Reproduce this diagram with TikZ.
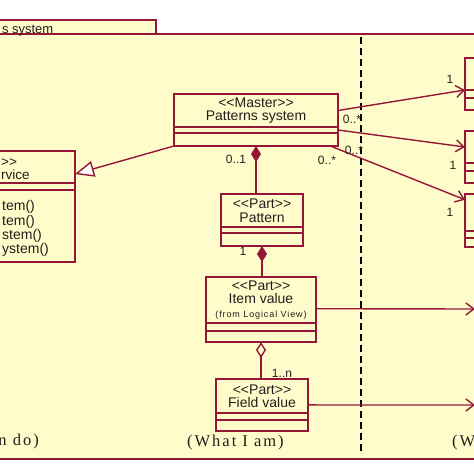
\documentclass[tikz,border=0pt]{standalone}
\usepackage{fontspec}
\setmainfont{Liberation Sans}
\newfontfamily\viewfont[LetterSpace=12]{Liberation Serif}
\newfontfamily\smallspaced[LetterSpace=10]{Liberation Sans}
\usetikzlibrary{arrows.meta}
\usetikzlibrary{positioning}
\definecolor{umlred}{RGB}{150,22,55}
\definecolor{umlfill}{RGB}{255,252,204}
\definecolor{umltext}{RGB}{35,30,28}
\newcommand\stereo[1]{<{}<#1>{}>}

\begin{document}
\begin{tikzpicture}[x=1pt,y=-1pt,font=\fontsize{14}{13.5}\selectfont,text=umltext]
  \tikzset{pkg/.style={draw=umlred, fill=umlfill, line width=1.5pt}}
  \tikzset{classhead/.style={rectangle, draw=umlred, fill=umlfill, line width=1.5pt,
      inner sep=0pt, outer sep=0pt, align=center, anchor=north west}}
  \tikzset{classpart/.style={rectangle, draw=umlred, fill=umlfill, line width=1.5pt,
      inner sep=0pt, outer sep=0pt}}
  \tikzset{mult/.style={font=\fontsize{12}{12}\selectfont, inner sep=0pt}}
  \tikzset{view/.style={font=\viewfont\fontsize{16.5}{16.5}\selectfont, inner sep=0pt}}
  \tikzset{assoc/.style={draw=umlred, line width=1.4pt, -{Straight Barb[length=8pt,width=12pt]}}}
  \tikzset{compose/.style={draw=umlred, line width=1.4pt, {Diamond[length=16pt,width=10pt,fill=umlred]}-}}
  \tikzset{aggreg/.style={draw=umlred, line width=1.4pt, {Diamond[length=16pt,width=10pt,fill=umlfill]}-}}
  \tikzset{generalize/.style={draw=umlred, line width=1.4pt, -{Triangle[length=19pt,width=16pt,fill=white]}}}
  \clip (0,0) rectangle (474,474);
  % package frame
  \draw[pkg] (-5,20) rectangle (156,34);
  \draw[pkg] (-5,34) rectangle (490,459);
  \node[anchor=base east, inner sep=0pt, font=\fontsize{13}{13}\selectfont] (pkgname) at (53.5,33.5) {s system};
  \draw[black, line width=1.2pt, dash pattern=on 7pt off 4pt] (361,37) -- (361,453);
  % classes
  \node[classhead, minimum width=164pt, minimum height=33pt] (master) at (174,94)
    {\stereo{Master}\\Patterns system};
  \node[classpart, minimum width=164pt, minimum height=6pt, below=0pt of master] (masterA) {};
  \node[classpart, minimum width=164pt, minimum height=13pt, below=0pt of masterA] (masterB) {};
  \node[classhead, minimum width=82pt, minimum height=33pt] (pattern) at (221,194)
    {\stereo{Part}\\Pattern};
  \node[classpart, minimum width=82pt, minimum height=6pt, below=0pt of pattern] (patternA) {};
  \node[classpart, minimum width=82pt, minimum height=13pt, below=0pt of patternA] (patternB) {};
  \node[classhead, minimum width=110pt, minimum height=46pt] (item) at (206,277)
    {\stereo{Part}\\Item value\\{\smallspaced\fontsize{9}{12}\selectfont (from Logical View)}};
  \node[classpart, minimum width=110pt, minimum height=8pt, below=0pt of item] (itemA) {};
  \node[classpart, minimum width=110pt, minimum height=11pt, below=0pt of itemA] (itemB) {};
  \node[classhead, minimum width=92pt, minimum height=34pt] (field) at (216,379)
    {\stereo{Part}\\Field value};
  \node[classpart, minimum width=92pt, minimum height=7pt, below=0pt of field] (fieldA) {};
  \node[classpart, minimum width=92pt, minimum height=11pt, below=0pt of fieldA] (fieldB) {};
  \node[classhead, minimum width=115pt, minimum height=32pt] (service) at (-40,151) {};
  \node[classpart, minimum width=115pt, minimum height=7pt, below=0pt of service] (serviceA) {};
  \node[classpart, minimum width=115pt, minimum height=72pt, below=0pt of serviceA] (serviceB) {};
  \node[anchor=south west, align=left, inner sep=0pt, font=\fontsize{13.5}{13.5}\selectfont]
    (svcname) at (1,180) {>{}>\\rvice};
  \node[anchor=south west, align=left, inner sep=0pt, font=\fontsize{14}{14.3}\selectfont]
    (svcops) at (2,257) {tem()\\tem()\\stem()\\ystem()};
  \node[classhead, minimum width=60pt, minimum height=32pt] (rone) at (465,58) {};
  \node[classpart, minimum width=60pt, minimum height=8pt, below=0pt of rone] (roneA) {};
  \node[classpart, minimum width=60pt, minimum height=12pt, below=0pt of roneA] (roneB) {};
  \node[classhead, minimum width=60pt, minimum height=32pt] (rtwo) at (465,131) {};
  \node[classpart, minimum width=60pt, minimum height=8pt, below=0pt of rtwo] (rtwoA) {};
  \node[classpart, minimum width=60pt, minimum height=12pt, below=0pt of rtwoA] (rtwoB) {};
  \node[classhead, minimum width=60pt, minimum height=37pt] (rthree) at (465,194) {};
  \node[classpart, minimum width=60pt, minimum height=7pt, below=0pt of rthree] (rthreeA) {};
  \node[classpart, minimum width=60pt, minimum height=9pt, below=0pt of rthreeA] (rthreeB) {};
  % free ends
  \coordinate (itemout) at (475,309);
  \coordinate (fieldout) at (475,405);
  % connectors
  \draw[generalize] (masterB.south west) -- (service.-7);
  \draw[compose] (masterB.south) -- (masterB.south |- pattern.north);
  \draw[compose] (patternB.south) -- (patternB.south |- item.north);
  \draw[aggreg] (itemB.south) -- (itemB.south |- field.north);
  \draw[assoc] (master.east) -- (rone.south west);
  \draw[assoc] (masterA.east) -- (rtwo.west);
  \draw[assoc] (masterB.-5) -- (rthree.157);
  \draw[assoc] (item.-9) -- (itemout);
  \draw[assoc] (field.-11) -- (fieldout);
  % multiplicities
  \node[mult] (mMaster) at (236,159) {0..1};
  \node[mult] (mMasterR) at (327,160) {0..*};
  \node[mult] (mOne) at (352,119) {0..*};
  \node[mult] (mTwo) at (354,150) {0..*};
  \node[mult] (rOne) at (450,79) {1};
  \node[mult] (rTwo) at (453,165) {1};
  \node[mult] (rThree) at (450,212) {1};
  \node[mult] (mPattern) at (243,251) {1};
  \node[mult] (mField) at (282,373) {1..n};
  % views
  \node[view, anchor=base east] (viewleft) at (39,445.5) {n do)};
  \node[view, anchor=base west] (viewmid) at (187,446) {(What I am)};
  \node[view, anchor=base west] (viewright) at (452,446) {(W};
\end{tikzpicture}
\end{document}
